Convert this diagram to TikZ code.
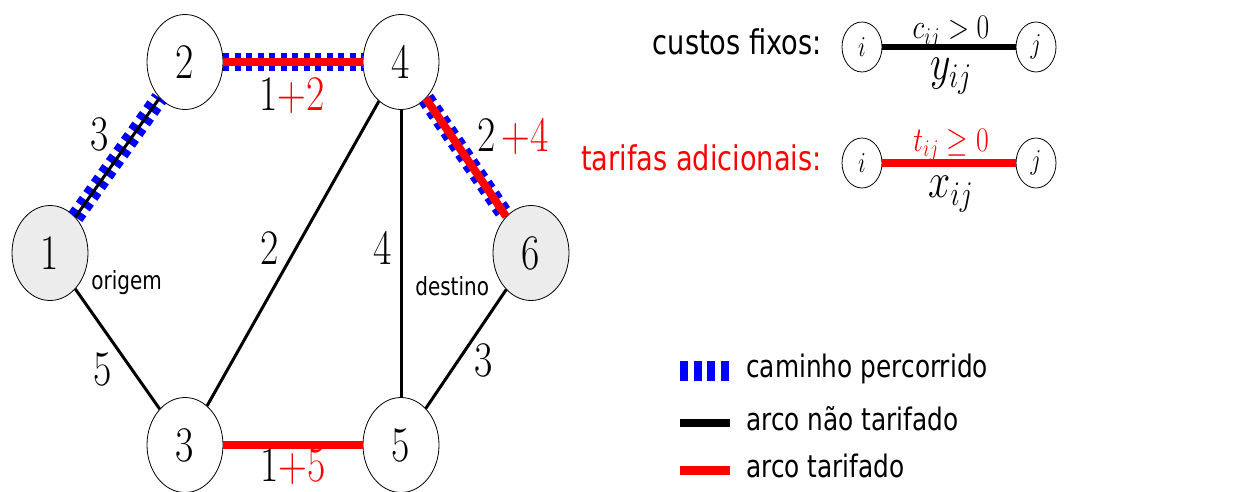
\documentclass[tikz,border=0pt]{standalone}
\usepackage{fontspec}
\newfontfamily\legfont{DejaVu Sans}
\usetikzlibrary{positioning}

\begin{document}
\begin{tikzpicture}[x=0.5pt,y=-0.5pt,
  every node/.append style={xscale=0.8,transform shape},
  vtx/.style={circle,draw,line width=0.4pt,minimum size=47.5pt,inner sep=0pt,font=\fontsize{28}{30}\selectfont},
  endvtx/.style={vtx,fill=gray!15},
  lab/.style={inner sep=0pt,font=\fontsize{23}{25}\selectfont},
  smallvtx/.style={circle,draw,line width=0.4pt,minimum size=25pt,inner sep=0pt,font=\fontsize{14}{16}\selectfont},
  leg/.style={inner sep=0pt,font=\legfont\fontsize{17}{20}\selectfont},
  legsmall/.style={inner sep=0pt,font=\legfont\fontsize{15.5}{18}\selectfont},
  tag/.style={inner sep=0pt,font=\legfont\fontsize{12.5}{14}\selectfont},
  arc/.style={line width=1.5pt},
  tarif/.style={red,line width=4pt},
  walk/.style={blue,line width=8.5pt,dash pattern=on 3.5pt off 3pt}]
  \useasboundingbox (0,0) rectangle (1247,492);

  % Vertices
  \node[endvtx] (n1) at (50,253) {$1$};
  \node[vtx] (n2) at (185,62) {$2$};
  \node[vtx] (n3) at (185,445) {$3$};
  \node[vtx] (n4) at (401,62) {$4$};
  \node[vtx] (n5) at (401,445) {$5$};
  \node[endvtx] (n6) at (531,253) {$6$};
  \node[tag,anchor=base west] at (91,289) {origem};
  \node[tag,anchor=base west] at (415,295) {destino};

  % Path taken
  \draw[walk] (n1) -- (n2);
  \draw[walk,line width=9pt,dash pattern=on 3pt off 2.75pt] (n2) -- (n4);
  \draw[walk] (n4) -- (n6);

  % Arcs
  \draw[arc] (n1) -- (n2);
  \draw[tarif] (n2) -- (n4);
  \draw[tarif] (n4) -- (n6);
  \draw[arc] (n1) -- (n3);
  \draw[arc] (n3) -- (n4);
  \draw[arc] (n4) -- (n5);
  \draw[tarif] (n3) -- (n5);
  \draw[arc] (n5) -- (n6);

  % Costs
  \node[lab] at (100,134) {$3$};
  \node[lab] at (292,96) {$1${\color{red}$+2$}};
  \node[lab] at (513,137) {$2$\,{\color{red}$+4$}};
  \node[lab] at (270,248) {$2$};
  \node[lab] at (383,248) {$4$};
  \node[lab] at (103,369) {$5$};
  \node[lab] at (484,360) {$3$};
  \node[lab] at (293,467) {$1${\color{red}$+5$}};

  % Legend, arc types
  \node[leg,anchor=base east] at (822,55) {custos fixos:};
  \node[smallvtx] (i1) at (862,47) {$i$};
  \node[smallvtx] (j1) at (1036,47) {$j$};
  \draw[line width=3pt] (i1) -- (j1);
  \node[inner sep=0pt,anchor=base,font=\fontsize{17}{19}\selectfont] at (951,39) {$c_{ij}>0$};
  \node[inner sep=0pt,anchor=base,font=\fontsize{24}{26}\selectfont] at (951,80) {$y_{ij}$};

  \node[leg,red,anchor=base east] at (822,170) {tarifas adicionais:};
  \node[smallvtx] (i2) at (862,163) {$i$};
  \node[smallvtx] (j2) at (1036,163) {$j$};
  \draw[tarif] (i2) -- (j2);
  \node[inner sep=0pt,anchor=base,red,font=\fontsize{17}{19}\selectfont] at (951,151) {$t_{ij}\geq 0$};
  \node[inner sep=0pt,anchor=base,font=\fontsize{24}{26}\selectfont] at (951,198) {$x_{ij}$};

  % Legend, line styles
  \coordinate (w1) at (680,371); \coordinate (w2) at (730,371);
  \coordinate (b1) at (680,423); \coordinate (b2) at (730,423);
  \coordinate (r1) at (680,470); \coordinate (r2) at (730,470);
  \draw[blue,line width=10pt,dash pattern=on 4pt off 2.75pt] (w1) -- (w2);
  \draw[line width=4pt] (b1) -- (b2);
  \draw[red,line width=4.5pt] (r1) -- (r2);
  \node[legsmall,anchor=base west] at (746,377) {caminho percorrido};
  \node[legsmall,anchor=base west] at (746,430) {arco não tarifado};
  \node[legsmall,anchor=base west] at (746,477) {arco tarifado};
\end{tikzpicture}
\end{document}
